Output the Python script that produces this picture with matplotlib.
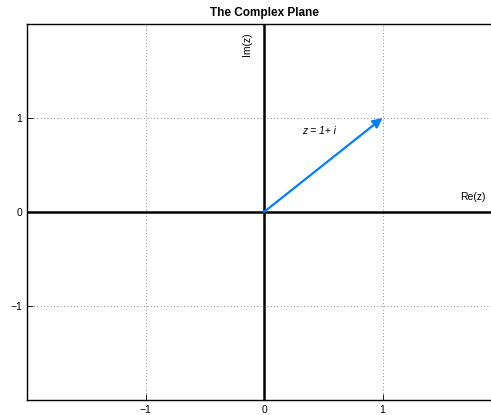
import numpy as np
import matplotlib.pyplot as plt

plt.rcParams['font.family'] = ['Liberation Sans', 'DejaVu Sans']

# data
z_re = 1
z_im = 1
xticks = [-1, 0, 1]
yticks = [-1, 0, 1]
xlim = (-2, 2)
ylim = (-2, 2)

fig = plt.figure(figsize=(4.91, 4.15), dpi=100)
# axes run a bit past the right edge of the figure, as in the original
ax = fig.add_axes([27/491, 15/415, 474/491, 376/415])

ax.set_xlim(*xlim)
ax.set_ylim(*ylim)
ax.set_xticks(xticks)
ax.set_yticks(yticks)
ax.set_xticklabels(['\u22121', '0', '1'])
ax.set_yticklabels(['\u22121', '0', '1'])
ax.tick_params(direction='in', length=4, width=0.6, labelsize=7.5, colors='black')
ax.grid(True, linestyle=(0, (1, 3)), color='#666666', linewidth=0.6)
ax.spines['right'].set_visible(False)
for s in ['left', 'bottom', 'top']:
    ax.spines[s].set_linewidth(1.0)

# real and imaginary axes
ax.axhline(0, color='black', linewidth=1.8)
ax.axvline(0, color='black', linewidth=1.8)

# the vector z
ax.annotate('', xy=(z_re, z_im), xytext=(0, 0),
            arrowprops=dict(arrowstyle='-|>', color='#0080ff', lw=1.6,
                            mutation_scale=14, shrinkA=0, shrinkB=0))

ax.text(0.32, 0.86, 'z = 1+ i', fontsize=7.5, style='italic', va='center', ha='left')
ax.text(1.87, 0.16, 'Re(z)', fontsize=7.5, va='center', ha='right')
ax.text(-0.14, 1.78, 'Im(z)', fontsize=7.5, va='center', ha='center', rotation=90)

ax.set_title('The Complex Plane', fontsize=8.5, fontweight='bold', pad=6)

fig.savefig('out.png', dpi=100)
